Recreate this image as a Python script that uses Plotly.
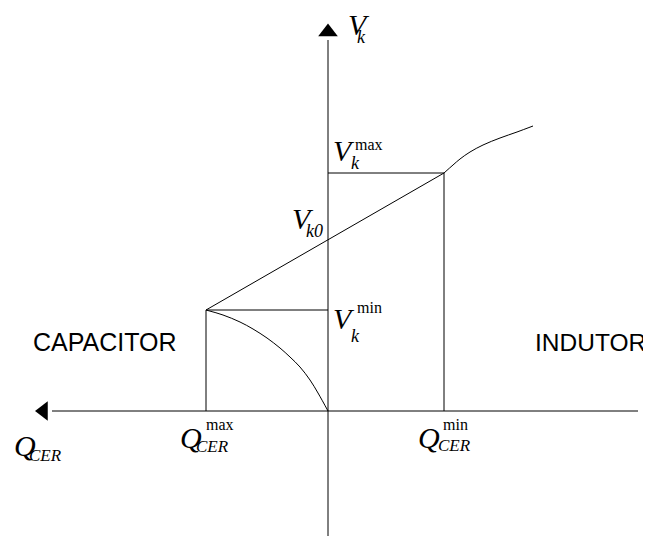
import plotly.graph_objects as go

# characteristic points (diagram units, origin where the axes cross)
q_max = -12.2   # Q_CER max (capacitive side)
q_min = 11.6    # Q_CER min (inductive side)
v_min = 10.1
v_max = 23.8

# capacitor branch, from (q_max, v_min) down to the origin
cap_x = [-12.2, -10.5, -8.8, -7.5, -6.1, -4.8, -3.8, -2.8, -1.8, -1.0, 0.0]
cap_y = [10.1, 9.6, 8.9, 8.2, 7.3, 6.3, 5.4, 4.4, 3.1, 1.8, 0.0]

# inductor branch, going on above (q_min, v_max)
ind_x = [11.6, 12.5, 13.2, 14.2, 15.5, 17.2, 18.9, 20.5]
ind_y = [23.8, 24.6, 25.2, 25.9, 26.6, 27.3, 27.9, 28.5]

# axis extents
x_left, x_right = -27.6, 31.0
y_bottom, y_top = -12.5, 37.1

serif = "Liberation Serif"
ink = "black"

fig = go.Figure()


def seg(xs, ys, shape="linear"):
    fig.add_trace(go.Scatter(x=xs, y=ys, mode="lines",
                             line=dict(color=ink, width=1, shape=shape),
                             showlegend=False, hoverinfo="skip"))


# axes
seg([x_left, x_right], [0, 0])
seg([0, 0], [y_bottom, y_top])
fig.add_trace(go.Scatter(x=[0], y=[y_top + 0.8], mode="markers",
                         marker=dict(symbol="triangle-up", size=17, color=ink),
                         showlegend=False, hoverinfo="skip"))
fig.add_trace(go.Scatter(x=[x_left - 0.85], y=[0], mode="markers",
                         marker=dict(symbol="triangle-left", size=17, color=ink),
                         showlegend=False, hoverinfo="skip"))

# guide lines
seg([q_max, q_max], [0, v_min])
seg([q_max, 0], [v_min, v_min])
seg([q_min, q_min], [0, v_max])
seg([0, q_min], [v_max, v_max])
seg([q_max, q_min], [v_min, v_max])

# curves
seg(cap_x, cap_y, "spline")
seg(ind_x, ind_y, "spline")


def label(x, y, text, size, family=serif, italic=True, anchor="left"):
    t = "<i>%s</i>" % text if italic else text
    fig.add_annotation(x=x, y=y, text=t, showarrow=False,
                       xanchor=anchor, yanchor="middle",
                       font=dict(family=family, size=size, color=ink))


# V_k at the top of the axis
label(1.8, 38.7, "V", 30)
label(2.7, 37.4, "k", 18)
# V_k max
label(0.3, v_max + 2.3, "V", 30)
label(2.5, v_max + 2.9, "max", 16, italic=False)
label(2.1, v_max + 1.0, "k", 18)
# V_k0
label(-3.8, 19.3, "V", 30)
label(-2.4, 18.0, "k0", 18)
# V_k min
label(0.3, v_min - 0.8, "V", 30)
label(2.7, v_min + 0.3, "min", 16, italic=False)
label(2.1, v_min - 2.6, "k", 18)
# Q_CER max
label(q_max - 2.8, -2.6, "Q", 30)
label(q_max - 0.2, -1.3, "max", 16, italic=False)
label(q_max - 1.2, -3.5, "CER", 17)
# Q_CER min
label(q_min - 2.8, -2.6, "Q", 30)
label(q_min - 0.3, -1.3, "min", 16, italic=False)
label(q_min - 0.8, -3.4, "CER", 17)
# Q_CER axis name
label(-31.6, -3.4, "Q", 30)
label(-30.1, -4.4, "CER", 17)

# regions
label(-22.3, 6.9, "CAPACITOR", 25, family="Liberation Sans", italic=False, anchor="center")
label(26.2, 6.9, "INDUTOR", 24.5, family="Liberation Sans", italic=False, anchor="center")

# the page body keeps an 8px margin, so the figure is 8px smaller and the
# ranges start 0.8 units in
fig.update_layout(
    width=643, height=534,
    margin=dict(l=0, r=0, t=0, b=0),
    plot_bgcolor="white", paper_bgcolor="white",
    xaxis=dict(range=[-32.0, 32.3], visible=False, fixedrange=True),
    yaxis=dict(range=[-13.1, 40.3], visible=False, fixedrange=True),
)

fig.write_html("out.html")
